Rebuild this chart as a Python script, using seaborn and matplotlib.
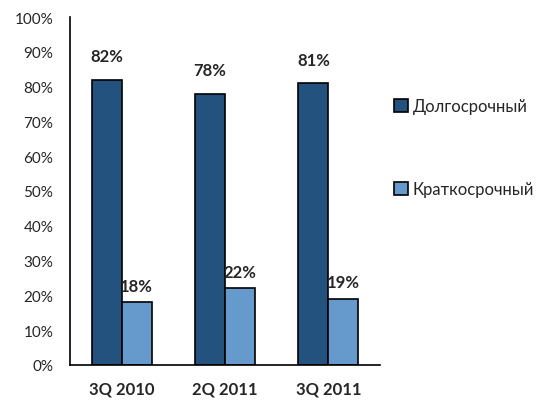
import seaborn as sns
import matplotlib.pyplot as plt
import pandas as pd
from matplotlib.ticker import PercentFormatter

DARK, LIGHT = '#24527e', '#6699cc'

periods = ['3Q 2010', '2Q 2011', '3Q 2011']
long_term = [82, 78, 81]
short_term = [18, 22, 19]
series = ['Долгосрочный', 'Краткосрочный']

df = pd.DataFrame({
    'Period': periods * 2,
    'Value': long_term + short_term,
    'Type': [series[0]] * 3 + [series[1]] * 3,
})

sns.set_theme(style='white')
plt.rcParams['font.family'] = ['Lato', 'DejaVu Sans']

fig = plt.figure(figsize=(5.5, 4.02), dpi=100)
ax = fig.add_axes([0.127, 0.09, 0.564, 0.865])

sns.barplot(data=df, x='Period', y='Value', hue='Type', palette=[DARK, LIGHT],
            width=0.58, edgecolor='black', linewidth=1.2, errorbar=None,
            saturation=1, ax=ax)

for cont, off in zip(ax.containers, [4.5, 2.5]):
    for bar in cont:
        h = bar.get_height()
        ax.text(bar.get_x() + bar.get_width() / 2, h + off, f'{h:.0f}%',
                ha='center', va='bottom', fontsize=12, fontweight='bold')

ax.set_ylim(0, 100)
ax.set_xlim(-0.5, 2.5)
ax.set_yticks(range(0, 101, 10))
ax.yaxis.set_major_formatter(PercentFormatter(decimals=0))
ax.tick_params(axis='y', labelsize=11, length=0, pad=12)
ax.tick_params(axis='x', labelsize=12, length=0, pad=11)
for lab in ax.get_xticklabels():
    lab.set_fontweight('bold')
ax.set_xlabel('')
ax.set_ylabel('')
for s in ['top', 'right']:
    ax.spines[s].set_visible(False)
for s in ['left', 'bottom']:
    ax.spines[s].set_color('black')
    ax.spines[s].set_linewidth(1.2)

handles, labels = ax.get_legend_handles_labels()
ax.legend_.remove()
fig.legend(handles, labels, loc='upper left', bbox_to_anchor=(0.69, 0.79),
           frameon=False, fontsize=12, labelspacing=4.0,
           handlelength=0.8, handleheight=0.8, handletextpad=0.3)

fig.savefig('out.png', dpi=100, facecolor='white')
